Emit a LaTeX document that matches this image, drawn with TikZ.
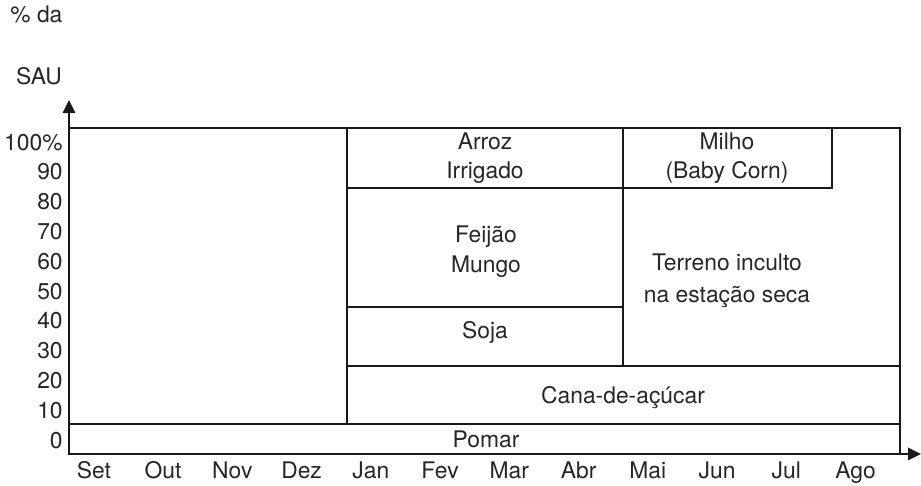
\documentclass[tikz,border=0pt]{standalone}
\usepackage{fontspec}
\setmainfont{TeX Gyre Heros}
\usetikzlibrary{arrows.meta}

\tikzset{
  lbl/.style={font=\fontsize{13}{16}\selectfont, text=black!85, inner sep=0pt, anchor=base},
  ylbl/.style={lbl, anchor=base east},
  rule/.style={line width=1.5pt, draw=black!90},
  axis/.style={rule, -{Triangle[length=0.26cm,width=0.24cm]}}
}

\begin{document}
\begin{tikzpicture}[x=0.02cm,y=-0.02cm]
		\useasboundingbox (0,0) rectangle (921,485);
		
		\coordinate (O) at (69,454);
		\coordinate (ytop) at (69,100);
		\coordinate (xend) at (921,454);
		
		\draw[axis] (O) -- (ytop);
		\draw[axis] (O) -- (xend);
		
		\draw[rule] (69,128) rectangle (900,454);
		\draw[rule] (69,424) -- (900,424);
		\draw[rule] (347,128) -- (347,424);
		\draw[rule] (347,366) -- (900,366);
		\draw[rule] (623,128) -- (623,366);
		\draw[rule] (347,188) -- (623,188);
		\draw[rule] (347,307) -- (623,307);
		\draw[rule] (623,188) -- (832,188) -- (832,128);
		
		\node[lbl, anchor=base west] (unit) at (10,22) {\% da};
		\node[lbl] (sau) at (39,84) {SAU};
		
		\foreach \v [count=\i from 0] in {100\%,90,80,70,60,50,40,30,20,10,0}
			\node[ylbl] (y\i) at (63,{150+29.8*\i}) {\v};
		
		\foreach \m [count=\i from 0] in {Set,Out,Nov,Dez,Jan,Fev,Mar,Abr,Mai,Jun,Jul,Ago}
			\node[lbl] (m\i) at ({69+69.25*(\i+0.5)-9.8},478) {\m};
		
		\node[lbl] (arroz) at (485,149) {Arroz};
		\node[lbl] (irrigado) at (485,178) {Irrigado};
		\node[lbl] (milho) at (727,149) {Milho};
		\node[lbl] (babycorn) at (727,178) {(Baby Corn)};
		\node[lbl] (feijao) at (486,242) {Feijão};
		\node[lbl] (mungo) at (486,272) {Mungo};
		\node[lbl] (terreno) at (727,270) {Terreno inculto};
		\node[lbl] (seca) at (727,302) {na estação seca};
		\node[lbl] (soja) at (485,338) {Soja};
		\node[lbl] (cana) at (623,403) {Cana-de-açúcar};
		\node[lbl] (pomar) at (486,447) {Pomar};
	\end{tikzpicture}
\end{document}
